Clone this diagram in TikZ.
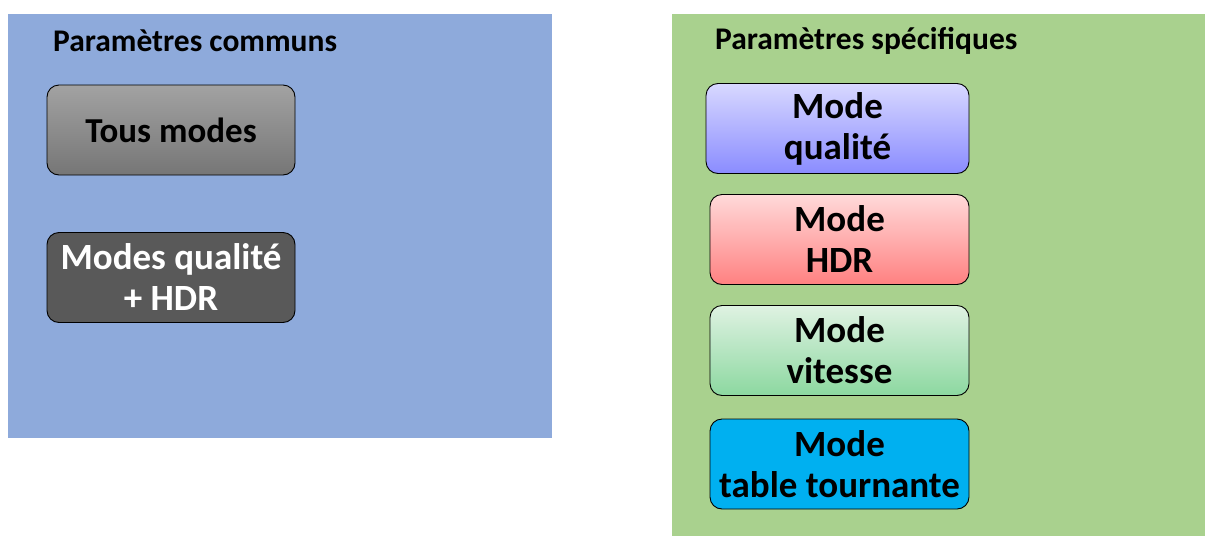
\documentclass[tikz,border=0pt]{standalone}
\usepackage{fontspec}
\setmainfont{Carlito}
\definecolor{panelblue}{HTML}{8EAADB}
\definecolor{panelgreen}{HTML}{A9D18E}
\definecolor{darkgray}{HTML}{595959}
\definecolor{cyanbox}{HTML}{00B0F0}
\begin{document}
\begin{tikzpicture}[x=1pt,y=-1pt,
  panel/.style={draw=none,inner sep=0pt},
  title/.style={anchor=west,font=\bfseries\fontsize{31.5}{36}\selectfont,inner sep=0pt},
  modebox/.style={draw=black,line width=0.9pt,rounded corners=12pt,
    minimum height=90pt,align=center,inner sep=0pt,
    font=\bfseries\fontsize{37}{41}\selectfont},
]
\useasboundingbox (0,0) rectangle (1205,536);
\fill[white] (0,0) rectangle (1205,536);
\node[panel,fill=panelblue,anchor=north west,minimum width=544pt,minimum height=424pt] (pc) at (8,14) {};
\node[panel,fill=panelgreen,anchor=north west,minimum width=533pt,minimum height=522pt] (ps) at (672,14) {};
\node[title] (tc) at (53,41) {Paramètres communs};
\node[title] (ts) at (715,41) {Paramètres spécifiques};
\node[modebox,minimum width=248pt,top color={rgb,255:red,162;green,162;blue,162},bottom color={rgb,255:red,118;green,118;blue,118},font=\bfseries\fontsize{35}{41}\selectfont] (tous) at (171,130) {Tous modes};
\node[modebox,minimum width=248pt,fill=darkgray,text=white] (mqh) at (171,277.5) {Modes qualité\\+ HDR};
\node[modebox,minimum width=263pt,top color={rgb,255:red,216;green,216;blue,255},bottom color={rgb,255:red,138;green,140;blue,255}] (mq) at (837.5,128.5) {Mode\\qualité};
\node[modebox,minimum width=259pt,top color={rgb,255:red,255;green,218;blue,218},bottom color={rgb,255:red,255;green,128;blue,128}] (mh) at (839.5,239.5) {Mode\\HDR};
\node[modebox,minimum width=259pt,top color={rgb,255:red,223;green,242;blue,226},bottom color={rgb,255:red,140;green,216;blue,160}] (mv) at (839.5,350.5) {Mode\\vitesse};
\node[modebox,minimum width=259pt,fill=cyanbox] (mt) at (839.5,464) {Mode\\table tournante};
\end{tikzpicture}
\end{document}
